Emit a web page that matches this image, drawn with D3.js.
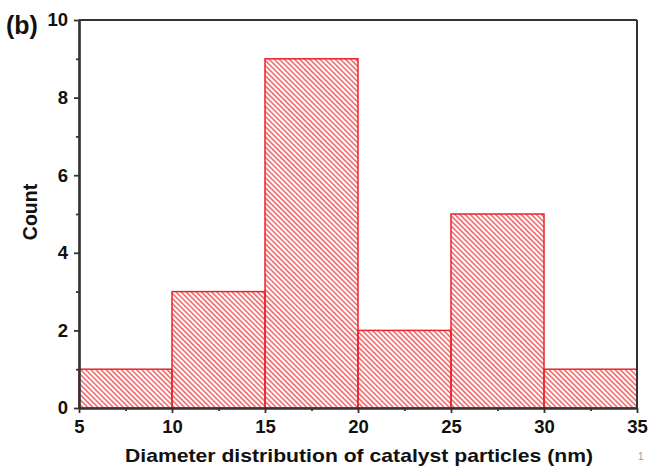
<!DOCTYPE html>
<html>
<head>
<meta charset="utf-8">
<script src="https://cdn.jsdelivr.net/npm/d3@7"></script>
<style>
  body { margin: 0; background: #fff; }
  svg { display: block; font-family: "Liberation Sans", Arial, sans-serif; }
</style>
</head>
<body>
<svg id="chart" width="651" height="467"></svg>
<script>
// Histogram bins (nm) and counts
const binStarts = [5, 10, 15, 20, 25, 30];
const binWidth = 5;
const counts = [1, 3, 9, 2, 5, 1];
const xTicks = [5, 10, 15, 20, 25, 30, 35];
const yTicks = [0, 2, 4, 6, 8, 10];

(function draw() {
  const svg = d3.select("#chart");
  const mLeft = 79, mRight = 637, mTop = 20, mBottom = 408;
  const axisColor = "#333";
  const red = "#e8262a";

  const x = d3.scaleLinear().domain([5, 35]).range([mLeft, mRight]);
  const y = d3.scaleLinear().domain([0, 10]).range([mBottom, mTop]);

  // diagonal hatch pattern
  const defs = svg.append("defs");
  const pat = defs.append("pattern")
    .attr("id", "hatch")
    .attr("patternUnits", "userSpaceOnUse")
    .attr("width", 3.6).attr("height", 10)
    .attr("patternTransform", "rotate(-45)");
  pat.append("line")
    .attr("x1", 0.8).attr("y1", -1).attr("x2", 0.8).attr("y2", 11)
    .attr("stroke", red).attr("stroke-width", 1.1);

  // bars
  svg.append("g").selectAll("rect")
    .data(binStarts.map((s, i) => ({ s, c: counts[i] })))
    .join("rect")
    .attr("x", d => x(d.s))
    .attr("y", d => y(d.c))
    .attr("width", d => x(d.s + binWidth) - x(d.s))
    .attr("height", d => y(0) - y(d.c))
    .attr("fill", "url(#hatch)")
    .attr("stroke", red)
    .attr("stroke-width", 1.5);

  // frame top/right
  svg.append("line").attr("x1", mLeft).attr("x2", mRight).attr("y1", mTop).attr("y2", mTop)
    .attr("stroke", axisColor).attr("stroke-width", 2);
  svg.append("line").attr("x1", mRight).attr("x2", mRight).attr("y1", mTop).attr("y2", mBottom)
    .attr("stroke", axisColor).attr("stroke-width", 2);

  // x axis
  const xAxis = svg.append("g").attr("transform", `translate(0,${mBottom})`)
    .call(d3.axisBottom(x).tickValues(xTicks).tickSize(5).tickSizeOuter(0).tickPadding(7));
  const xMinor = svg.append("g").attr("transform", `translate(0,${mBottom})`)
    .call(d3.axisBottom(x).tickValues(d3.range(7.5, 35, 5)).tickSize(3).tickSizeOuter(0).tickFormat(""));

  // y axis
  const yAxis = svg.append("g").attr("transform", `translate(${mLeft},0)`)
    .call(d3.axisLeft(y).tickValues(yTicks).tickSize(5).tickSizeOuter(0).tickPadding(6));
  const yMinor = svg.append("g").attr("transform", `translate(${mLeft},0)`)
    .call(d3.axisLeft(y).tickValues(d3.range(1, 10, 2)).tickSize(3).tickSizeOuter(0).tickFormat(""));

  [xAxis, xMinor, yAxis, yMinor].forEach(g => {
    g.select(".domain").attr("stroke", axisColor).attr("stroke-width", 2.2);
    g.selectAll(".tick line").attr("stroke", axisColor).attr("stroke-width", 1.8);
    g.selectAll(".tick text")
      .attr("fill", "#111")
      .attr("font-size", 18.5)
      .attr("font-weight", "bold")
      .attr("font-family", "'Liberation Sans', Arial, sans-serif");
  });

  // axis titles
  svg.append("text")
    .attr("x", 359).attr("y", 462)
    .attr("text-anchor", "middle")
    .attr("font-size", 19).attr("font-weight", "bold").attr("fill", "#111")
    .attr("textLength", 468).attr("lengthAdjust", "spacingAndGlyphs")
    .text("Diameter distribution of catalyst particles (nm)");

  svg.append("text")
    .attr("transform", `translate(37,212) rotate(-90)`)
    .attr("text-anchor", "middle")
    .attr("font-size", 19.5).attr("font-weight", "bold").attr("fill", "#111")
    .text("Count");

  // panel label
  svg.append("text")
    .attr("x", 6).attr("y", 34)
    .attr("font-size", 25).attr("font-weight", "bold").attr("fill", "#111")
    .text("(b)");

  // page number
  svg.append("text")
    .attr("x", 638).attr("y", 460)
    .attr("font-size", 10).attr("fill", "#999")
    .text("1");
})();
</script>
</body>
</html>
